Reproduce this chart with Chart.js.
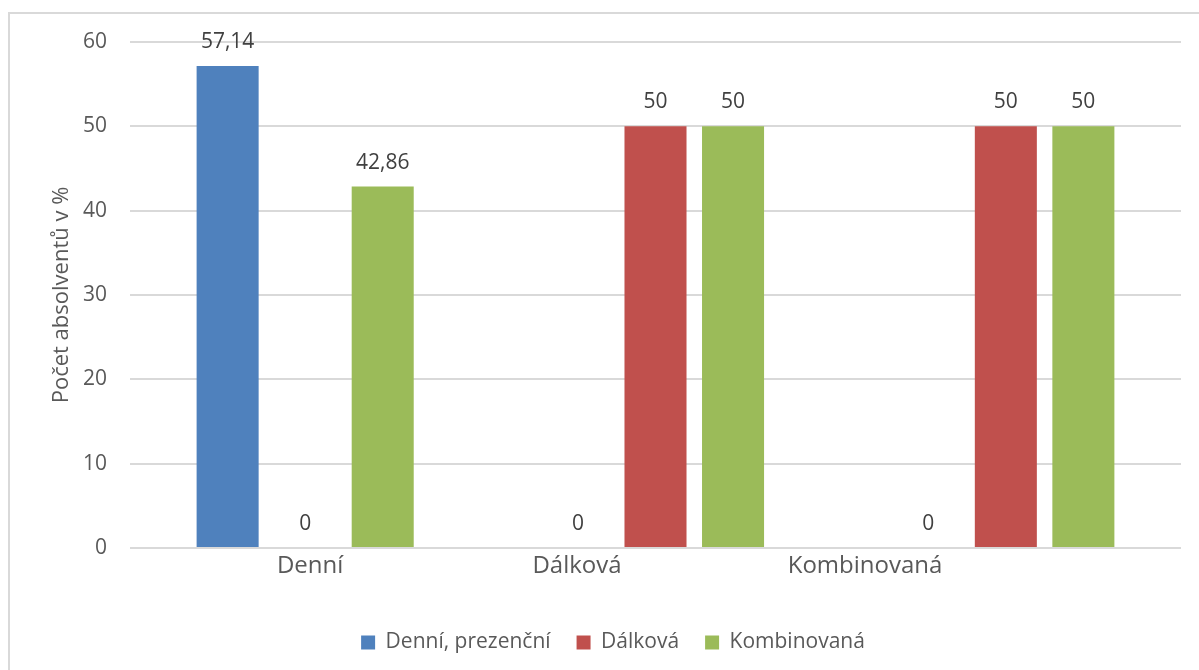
<!DOCTYPE html>
<html lang="cs">
<head>
<meta charset="utf-8">
<script src="https://cdn.jsdelivr.net/npm/chart.js@4/dist/chart.umd.min.js"></script>
<style>
    html, body { margin: 0; padding: 0; background: #fff; overflow: hidden; }
    #frame {
        position: absolute; left: 8px; top: 12px; width: 1400px; height: 900px;
        border-top: 2px solid #d9d9d9; border-left: 2px solid #d9d9d9;
    }
    #wrap { position: absolute; left: 0; top: 0; width: 1199px; height: 670px; }
</style>
</head>
<body>
<div id="frame"></div>
<div id="wrap"><canvas id="graf"></canvas></div>
<script>
// Kategorie (forma studia) a řady
const kategorie = ["Denní", "Dálková", "Kombinovaná"];
const nazvyRad = ["Denní, prezenční", "Dálková", "Kombinovaná"];
const denniPrezencni = [57.14, 0, 0];
const dalkova = [0, 50, 50];
const kombinovana = [42.86, 50, 50];
const osaY = { min: 0, max: 60, krok: 10 };

const barvy = ["#4F81BD", "#C0504D", "#9BBB59"];
const textBarva = "#595959";
const pismo = "'Open Sans', 'Noto Sans', sans-serif";

// popisky kategorií v Excelu nejsou pod středy skupin
const poziceKategorii = [0.514, 1.276, 2.098];

// Popisky hodnot nad sloupci (čárka jako desetinný oddělovač)
const popiskyHodnot = {
    id: "popiskyHodnot",
    afterDatasetsDraw(chart) {
        const ctx = chart.ctx;
        ctx.save();
        ctx.font = "21px " + pismo;
        ctx.fillStyle = "#404040";
        ctx.textAlign = "center";
        ctx.textBaseline = "middle";
        chart.data.datasets.forEach((ds, i) => {
            chart.getDatasetMeta(i).data.forEach((bar, j) => {
                const text = String(ds.data[j]).replace(".", ",");
                ctx.fillText(text, bar.x, bar.y - 24);
            });
        });
        ctx.restore();
    },
};

const ctx = document.getElementById("graf").getContext("2d");
new Chart(ctx, {
    type: "bar",
    data: {
        labels: kategorie,
        datasets: [denniPrezencni, dalkova, kombinovana].map((data, i) => ({
            label: nazvyRad[i],
            data: data,
            backgroundColor: barvy[i],
            categoryPercentage: 0.664,
            barPercentage: 0.8,
        })),
    },
    options: {
        responsive: true,
        maintainAspectRatio: false,
        animation: false,
        layout: { padding: { left: 45, right: 18, top: 42, bottom: 7 } },
        scales: {
            x: { display: false },
            x2: {
                type: "linear",
                position: "bottom",
                offset: false,
                min: 0,
                max: kategorie.length,
                grid: { display: false, offset: false },
                border: { display: false },
                afterBuildTicks: (scale) => {
                    scale.ticks = poziceKategorii.map(v => ({ value: v }));
                },
                afterFit: (scale) => { scale.height = 58; },
                ticks: {
                    autoSkip: false,
                    maxRotation: 0,
                    padding: -2,
                    color: textBarva,
                    font: { family: pismo, size: 24, lineHeight: 1 },
                    callback: (value, index) => kategorie[index],
                },
            },
            y: {
                min: osaY.min,
                max: osaY.max,
                afterFit: (scale) => { scale.width = 85; },
                ticks: {
                    stepSize: osaY.krok,
                    padding: 23,
                    color: textBarva,
                    font: { family: pismo, size: 21 },
                },
                grid: { color: "#d9d9d9", lineWidth: 2, drawTicks: false },
                border: { display: false },
                title: {
                    display: true,
                    text: "Počet absolventů v %",
                    color: textBarva,
                    font: { family: pismo, size: 22 },
                    padding: { top: 4, bottom: 0 },
                },
            },
        },
        plugins: {
            legend: {
                position: "bottom",
                labels: {
                    boxWidth: 14,
                    boxHeight: 14,
                    padding: 26,
                    color: textBarva,
                    font: { family: pismo, size: 21 },
                },
            },
            tooltip: { enabled: false },
        },
    },
    plugins: [popiskyHodnot],
});
</script>
</body>
</html>
